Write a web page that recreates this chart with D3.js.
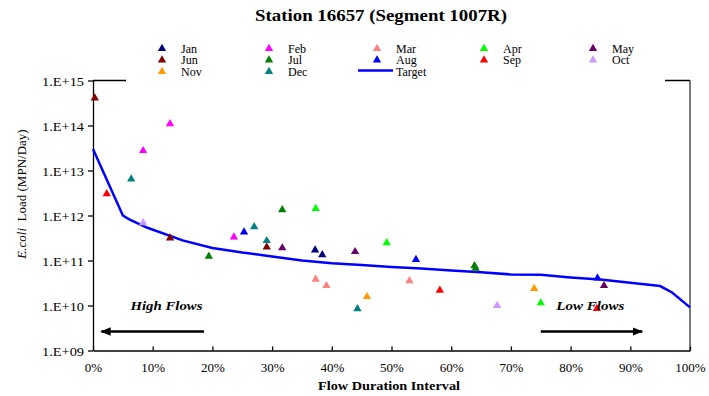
<!DOCTYPE html>
<html>
<head>
<meta charset="utf-8">
<script src="https://cdn.jsdelivr.net/npm/d3@7"></script>
<style>
    body { margin: 0; background: #fff; }
    svg text { font-family: "Liberation Serif", "Times New Roman", serif; fill: #000; }
</style>
</head>
<body>
<svg id="chart" width="709" height="396"></svg>
<script>
// DATA
const months      = ['Jan', 'Feb', 'Mar', 'Apr', 'May', 'Jun', 'Jul', 'Aug', 'Sep', 'Oct', 'Nov', 'Dec']
const monthColors = ['#000080', '#ff00ff', '#ff8080', '#00ff00', '#660066', '#800000', '#008000', '#0000ff', '#ff0000', '#cc99ff', '#ff9900', '#008080']

// Observed samples: month, flow duration interval (%), E.coli load (MPN/day)
const obsMonth = ['Jun', 'Sep', 'Dec', 'Feb', 'Feb', 'Oct', 'Jun', 'Jul', 'Feb', 'Aug', 'Dec', 'Dec',
                  'Jun', 'May', 'Jul', 'Apr', 'Jan', 'Jan', 'Mar', 'Mar', 'May', 'Dec', 'Nov', 'Apr',
                  'Mar', 'Aug', 'Sep', 'Jul', 'Jul', 'Oct', 'Nov', 'Apr', 'Aug', 'May', 'Sep']
const obsFlow  = [0.3, 2.3, 6.4, 8.4, 12.9, 8.4, 12.9, 19.4, 23.6, 25.3, 27.0, 29.1,
                  29.1, 31.7, 31.7, 37.3, 37.2, 38.4, 37.3, 39.1, 43.9, 44.3, 45.9, 49.2,
                  53.0, 54.1, 58.1, 63.9, 64.1, 67.7, 73.9, 75.0, 84.5, 85.6, 84.4]
const obsLoad  = [4.3e14, 3.2e12, 6.8e12, 2.9e13, 1.15e14, 7.2e11, 3.3e11, 1.3e11, 3.5e11, 4.5e11, 5.9e11, 2.9e11,
                  2.1e11, 2.0e11, 1.4e12, 1.5e12, 1.8e11, 1.4e11, 4.0e10, 2.9e10, 1.65e11, 8.9e9, 1.65e10, 2.6e11,
                  3.7e10, 1.1e11, 2.3e10, 8.0e10, 7.0e10, 1.05e10, 2.5e10, 1.2e10, 4.3e10, 2.9e10, 9.0e9]

// Target load duration curve
const targetFlow = [0, 5, 6, 9, 15, 20, 25, 30, 35, 40, 45, 50, 55, 60, 65, 70, 75, 80, 85, 90, 95, 97, 100]
const targetLoad = [3.0e13, 1.0e12, 8.3e11, 5.4e11, 2.8e11, 1.9e11, 1.5e11, 1.23e11, 1.0e11, 8.7e10, 7.9e10, 7.2e10,
                    6.6e10, 6.0e10, 5.5e10, 4.9e10, 4.8e10, 4.2e10, 3.8e10, 3.2e10, 2.7e10, 1.95e10, 9.1e9]

const xTicks = d3.range(0, 101, 10)
const yTicks = [1e9, 1e10, 1e11, 1e12, 1e13, 1e14, 1e15]


// LAYOUT
const plot = { left: 93, right: 690, top: 80.5, bottom: 350.5 }
const svg = d3.select('#chart')

const x = d3.scaleLinear().domain([0, 100]).range([plot.left, plot.right])
const y = d3.scaleLog().domain([1e9, 1e15]).range([plot.bottom, plot.top])
const colorOf = d3.scaleOrdinal().domain(months).range(monthColors)
const triangle = d3.symbol().type(d3.symbolTriangle).size(30)


// 1. Frame and axes
const frame = svg.append('g').attr('stroke', '#000').attr('stroke-width', 1.3)
frame.append('line').attr('x1', plot.right).attr('x2', plot.right).attr('y1', plot.top).attr('y2', plot.bottom).attr('stroke', '#333')
frame.append('line').attr('x1', plot.left).attr('x2', plot.right).attr('y1', plot.top).attr('y2', plot.top)

const yAxis = svg.append('g')
    .attr('transform', `translate(${plot.left},0)`)
    .call(d3.axisLeft(y).tickValues(yTicks).tickSize(5).tickSizeOuter(0)
        .tickFormat(d => '1.E+' + String(Math.round(Math.log10(d))).padStart(2, '0')))
yAxis.selectAll('text').attr('font-size', 13).attr('x', -9).attr('dy', '0.35em')
    .attr('textLength', 42).attr('lengthAdjust', 'spacingAndGlyphs')

const xAxis = svg.append('g')
    .attr('transform', `translate(0,${plot.bottom})`)
    .call(d3.axisBottom(x).tickValues(xTicks).tickSize(-4).tickSizeOuter(0).tickFormat(d => d + '%'))
xAxis.selectAll('text').attr('font-size', 13).attr('y', 12).attr('dy', '0.71em')

svg.selectAll('.domain, .tick line').attr('stroke', '#000').attr('stroke-width', 1.3)
svg.selectAll('.tick text').attr('font-family', null)


// 2. Target line
svg.append('path')
    .datum(targetFlow.map((f, i) => [f, targetLoad[i]]))
    .attr('fill', 'none')
    .attr('stroke', '#0000ff')
    .attr('stroke-width', 2.5)
    .attr('d', d3.line().x(d => x(d[0])).y(d => y(d[1])))


// 3. Observed samples
svg.append('g').selectAll('path')
    .data(obsMonth.map((m, i) => ({ month: m, flow: obsFlow[i], load: obsLoad[i] })))
    .join('path')
        .attr('d', triangle)
        .attr('transform', d => `translate(${x(d.flow)},${y(d.load) + 1})`)
        .attr('fill', d => colorOf(d.month))


// 4. Flow regime annotations
const arrowDefs = svg.append('defs')
arrowDefs.append('marker')
    .attr('id', 'arrowhead')
    .attr('viewBox', '0 0 10 10')
    .attr('refX', 9).attr('refY', 5)
    .attr('markerWidth', 4).attr('markerHeight', 4)
    .attr('orient', 'auto-start-reverse')
  .append('path').attr('d', 'M0,1 L10,5 L0,9 Z').attr('fill', '#000')

const regimes = [
    { label: 'High Flows', from: 18.6, to: 1.4, textAt: 12.3, width: 72 },
    { label: 'Low Flows',  from: 75.0, to: 92.0, textAt: 83.3, width: 68 }
]
regimes.forEach(r => {
    svg.append('line')
        .attr('x1', x(r.from)).attr('x2', x(r.to))
        .attr('y1', 331.5).attr('y2', 331.5)
        .attr('stroke', '#000').attr('stroke-width', 2.6)
        .attr('marker-end', 'url(#arrowhead)')
    svg.append('text')
        .attr('x', x(r.textAt)).attr('y', 310)
        .attr('text-anchor', 'middle')
        .attr('font-size', 13).attr('font-weight', 'bold').attr('font-style', 'italic')
        .attr('textLength', r.width).attr('lengthAdjust', 'spacingAndGlyphs')
        .text(r.label)
})


// 5. Legend (white box hides the middle of the top border, as in the source)
const legend = svg.append('g')
legend.append('rect').attr('x', 126).attr('y', 38).attr('width', 539).attr('height', 44).attr('fill', '#fff')

const legendItems = months.slice(0, 10).concat(['Nov', 'Dec', 'Target'])
const colX = [162, 269, 377, 484, 593]
const rowY = [48.5, 60, 71.5]
legendItems.forEach((name, i) => {
    const cx = colX[i % 5], cy = rowY[Math.floor(i / 5)]
    const item = legend.append('g')
    if (name === 'Target') {
        item.append('line').attr('x1', cx - 19).attr('x2', cx + 16).attr('y1', cy - 1).attr('y2', cy - 1)
            .attr('stroke', '#0000ff').attr('stroke-width', 2.5)
    } else {
        item.append('path').attr('d', triangle).attr('transform', `translate(${cx},${cy})`).attr('fill', colorOf(name))
    }
    item.append('text').attr('x', cx + 19).attr('y', cy + 4).attr('font-size', 12).text(name)
})


// 6. Titles
svg.append('text')
    .attr('x', 381).attr('y', 21)
    .attr('text-anchor', 'middle')
    .attr('font-size', 16).attr('font-weight', 'bold')
    .attr('textLength', 252).attr('lengthAdjust', 'spacingAndGlyphs')
    .text('Station 16657 (Segment 1007R)')

svg.append('text')
    .attr('x', 389).attr('y', 390)
    .attr('text-anchor', 'middle')
    .attr('font-size', 13).attr('font-weight', 'bold')
    .attr('textLength', 142).attr('lengthAdjust', 'spacingAndGlyphs')
    .text('Flow Duration Interval')

const yTitle = svg.append('text')
    .attr('transform', 'translate(26,194) rotate(-90)')
    .attr('text-anchor', 'middle')
    .attr('font-size', 13)
yTitle.append('tspan').attr('font-style', 'italic').text('E.coli')
yTitle.append('tspan').text('\u00a0 Load (MPN/Day)')
</script>
</body>
</html>
